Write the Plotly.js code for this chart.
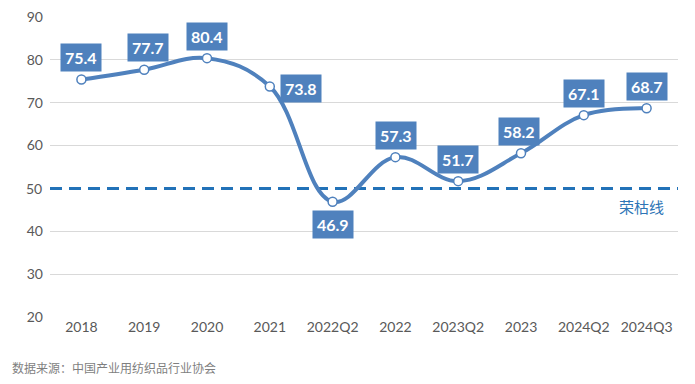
<!DOCTYPE html>
<html><head><meta charset="utf-8">
<script src="https://cdn.plot.ly/plotly-3.0.1.min.js"></script>
<style>html,body{margin:0;padding:0;background:#fff;}#c{width:695px;height:384px;}</style>
</head><body><div id="c"></div>
<script>
const categories = ["2018","2019","2020","2021","2022Q2","2022","2023Q2","2023","2024Q2","2024Q3"];
const values = [75.4,77.7,80.4,73.8,46.9,57.3,51.7,58.2,67.1,68.7];
const threshold = 50;
const thresholdLabel = "荣枯线";
const sourceText = "数据来源：中国产业用纺织品行业协会";
const labelOffsets = [[0,22],[4,22],[0,22],[31,-2],[0,-23],[1,22],[0,22],[-2,22],[0,22],[0,22]];

const blue = "#4f81bd";
const trace = {
  x: categories.map((c,i)=>i), y: values, type: "scatter", mode: "lines+markers",
  line: {color: blue, width: 4, shape: "spline", smoothing: 1.1},
  marker: {color: "#ffffff", size: 9, line: {color: blue, width: 1.5}},
  hoverinfo: "skip"
};
const annotations = values.map((v,i)=>({
  x: i, y: v, xref: "x", yref: "y",
  text: "<b>"+v.toFixed(1)+"</b>", showarrow: false,
  xshift: labelOffsets[i][0], yshift: labelOffsets[i][1],
  bgcolor: blue, borderpad: 4,
  font: {color: "#ffffff", size: 16, family: "Lato, 'Open Sans', sans-serif"}
}));
annotations.push({
  x: 1, xref: "paper", y: threshold, yref: "y", xanchor: "right", yanchor: "top",
  xshift: -12, yshift: -6,
  text: thresholdLabel, showarrow: false,
  font: {color: "#2e75b6", size: 15, family: "'Noto Sans CJK SC', sans-serif"}
});
annotations.push({
  x: 0, xref: "paper", xanchor: "left", xshift: -40, y: 0, yref: "paper", yanchor: "middle", yshift: -50,
  text: sourceText, showarrow: false,
  font: {color: "#7f7f7f", size: 12, family: "'Noto Sans CJK SC', sans-serif"}
});
const layout = {
  width: 695, height: 384,
  margin: {l: 50, r: 17, t: 17, b: 67},
  paper_bgcolor: "#fff", plot_bgcolor: "#fff",
  showlegend: false,
  xaxis: {type: "linear", range: [-0.5, 9.5], tickmode: "array", tickvals: categories.map((c,i)=>i), ticktext: categories,
    showgrid: false, zeroline: false, showline: false,
    ticks: "", tickfont: {color: "#595959", size: 14, family: "Lato, 'Open Sans', sans-serif"}},
  yaxis: {range: [20, 90], tickmode: "array", tickvals: [20,30,40,60,70,80,90], showgrid: true, gridcolor: "#d9d9d9", gridwidth: 1.2,
    zeroline: false, showline: false, ticks: "", ticklabelstandoff: 6,
    tickfont: {color: "#595959", size: 14, family: "Lato, 'Open Sans', sans-serif"}},
  shapes: [
    {type: "line", xref: "paper", x0: 0, x1: 1, yref: "y", y0: threshold, y1: threshold,
      line: {color: "#2272b8", width: 3, dash: "12px,7px"}, layer: "below"}],
  annotations: annotations
};
// 50 tick label drawn separately so the gridline at 50 is replaced by the dashed line
annotations.push({x: 0, xref: "paper", xanchor: "right", xshift: -6, y: threshold, yref: "y", text: String(threshold), showarrow: false,
  font: {color: "#595959", size: 14, family: "Lato, 'Open Sans', sans-serif"}});
Plotly.newPlot("c", [trace], layout, {displayModeBar: false, staticPlot: true});
</script></body></html>
